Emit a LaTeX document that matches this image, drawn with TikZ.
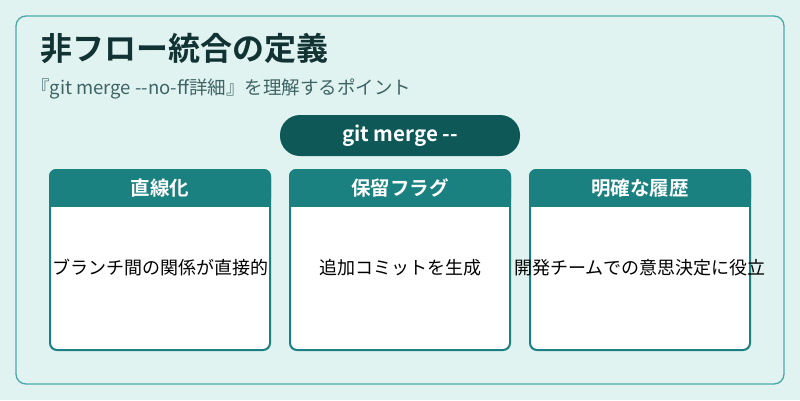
\documentclass[tikz,border=0pt]{standalone}
\usepackage{fontspec}
\setmainfont{Noto Sans CJK JP}
\newfontfamily\jpb{Noto Sans CJK JP Bold}
\definecolor{bgc}{HTML}{E0F3F1}
\definecolor{frame}{HTML}{4AA8A8}
\definecolor{hdr}{HTML}{1B8080}
\definecolor{pill}{HTML}{0F5858}
\definecolor{titc}{HTML}{123333}
\definecolor{subc}{HTML}{3E6464}
\begin{document}
\begin{tikzpicture}[x=1pt,y=-1pt,
  card/.style={draw=hdr,line width=2pt,fill=white,rounded corners=7pt},
  hd/.style={font=\jpb\fontsize{19.5}{22}\selectfont,text=white},
  bd/.style={font=\fontsize{18}{21}\selectfont,text=black,inner sep=0pt}]
\useasboundingbox (0,0) rectangle (800,400);
\fill[bgc] (0,0) rectangle (800,400);
\draw[frame,line width=1.3pt,rounded corners=10pt] (16,16) rectangle (784,384);
\node[anchor=west,text=titc,font=\jpb\fontsize{32}{36}\selectfont,inner sep=0pt] (title) at (40,48) {非フロー統合の定義};
\node[anchor=west,text=subc,font=\fontsize{18.5}{21}\selectfont,inner sep=0pt] (sub) at (31,89) {『git merge {-}{-}no-ff詳細』を理解するポイント};
\node[fill=pill,rounded corners=20pt,minimum width=240pt,minimum height=41pt,text=white,font=\jpb\fontsize{20.5}{23}\selectfont] (p) at (400,135.5) {git merge {-}{-}};
\foreach \x/\h/\b/\n in {50/直線化/ブランチ間の関係が直接的/a,290/保留フラグ/追加コミットを生成/b,530/明確な履歴/開発チームでの意思決定に役立/c}{
  \draw[card] (\x,170) rectangle ++(220,180);
  \fill[hdr,rounded corners=7pt] (\x-1,169) rectangle ++(222,37);
  \fill[hdr] (\x-1,190) rectangle ++(222,17);
  \node[hd] (h\n) at (\x+110,188) {\h};
  \node[bd] (t\n) at (\x+110,268) {\b};
}
\end{tikzpicture}
\end{document}
